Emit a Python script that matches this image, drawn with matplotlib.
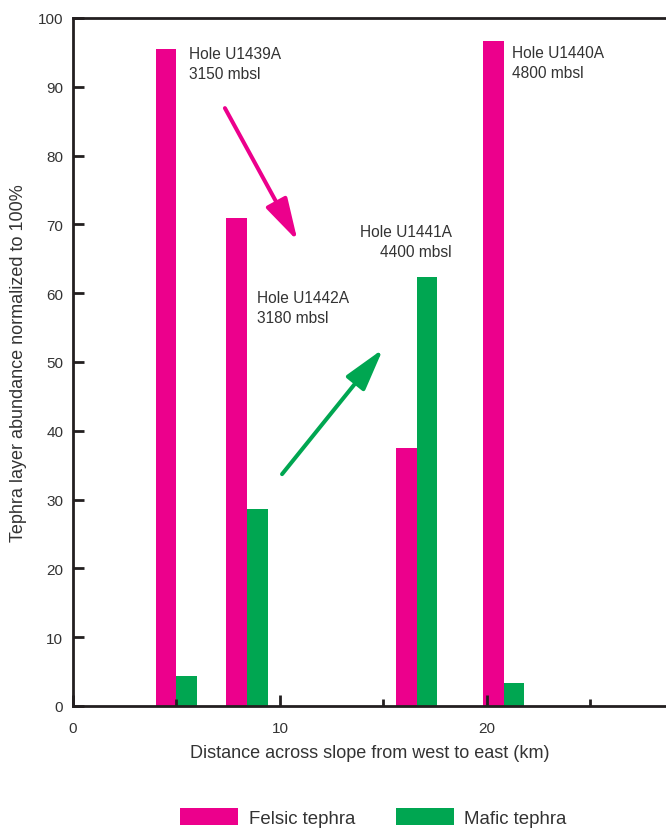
import matplotlib
matplotlib.use("Agg")
import matplotlib.pyplot as plt
from matplotlib.patches import Patch

plt.rcParams['font.family'] = ['Liberation Sans', 'DejaVu Sans']

# Data
hole_positions = [5.0, 8.4, 16.6, 20.8]   # km, boundary between paired bars
felsic = [95.5, 71.0, 37.5, 96.6]
mafic = [4.3, 28.7, 62.4, 3.3]
hole_labels = ["Hole U1439A\n3150 mbsl", "Hole U1442A\n3180 mbsl",
               "Hole U1441A\n4400 mbsl", "Hole U1440A\n4800 mbsl"]
series_names = ["Felsic tephra", "Mafic tephra"]

magenta = "#EC008C"
green = "#00A651"
txt = "#333333"
dark = "#231f20"

fig = plt.figure(figsize=(6.66, 8.29), dpi=100)
ax = fig.add_axes([73/666, 1-707/829, 1-73/666, (707-19)/829])

w = 1.0
xf = [p - w/2 for p in hole_positions]
xm = [p + w/2 for p in hole_positions]
ax.bar(xf, felsic, width=w, color=magenta, linewidth=0)
ax.bar(xm, mafic, width=w, color=green, linewidth=0)

ax.set_xlim(0, 28.65)
ax.set_ylim(0, 100)

for s in ['left', 'bottom', 'top']:
    ax.spines[s].set_linewidth(2.0)
    ax.spines[s].set_color(dark)
ax.spines['right'].set_visible(False)

ax.set_yticks(range(0, 101, 10))
ax.set_xticks([0, 10, 20])
ax.set_xticks([5, 15, 25], minor=True)
ax.tick_params(axis='y', direction='in', length=8, width=2, colors=dark,
               labelcolor=txt, labelsize=11, pad=7)
ax.tick_params(axis='x', which='major', direction='in', length=8, width=2,
               colors=dark, labelcolor=txt, labelsize=11, pad=11)
ax.tick_params(axis='x', which='minor', direction='in', length=5, width=2,
               colors=dark)

ax.set_xlabel("Distance across slope from west to east (km)", fontsize=13,
              color=txt, labelpad=6)
ax.set_ylabel("Tephra layer abundance normalized to 100%", fontsize=13,
              color=txt, labelpad=8)

# Annotations
fs = 11.2
ls = 1.42
ax.text(5.6, 96.0, hole_labels[0], fontsize=fs, color=txt, va='top',
        ha='left', linespacing=ls)
ax.text(8.9, 60.4, hole_labels[1], fontsize=fs, color=txt, va='top',
        ha='left', linespacing=ls)
ax.text(18.3, 70.0, hole_labels[2], fontsize=fs, color=txt, va='top',
        ha='right', linespacing=ls, multialignment='right')
ax.text(21.2, 96.1, hole_labels[3], fontsize=fs, color=txt, va='top',
        ha='left', linespacing=ls)

astyle = "-|>,head_length=2.6,head_width=0.72"
ax.annotate("", xy=(10.85, 67.6), xytext=(7.34, 86.9),
            arrowprops=dict(arrowstyle=astyle, color=magenta, lw=2.9,
                            shrinkA=0, shrinkB=0))
ax.annotate("", xy=(14.98, 51.9), xytext=(10.1, 33.7),
            arrowprops=dict(arrowstyle=astyle, color=green, lw=2.9,
                            shrinkA=0, shrinkB=0))

handles = [Patch(facecolor=magenta, label=series_names[0]),
           Patch(facecolor=green, label=series_names[1])]
leg = fig.legend(handles=handles, loc='center left',
                 bbox_to_anchor=(171/666, 1-818.5/829), borderpad=0,
                 ncol=2, frameon=False, fontsize=13.4, handlelength=3.12,
                 handleheight=1.0, handletextpad=0.55, columnspacing=2.2)
for t in leg.get_texts():
    t.set_color(txt)

fig.savefig("out.png", dpi=100)
